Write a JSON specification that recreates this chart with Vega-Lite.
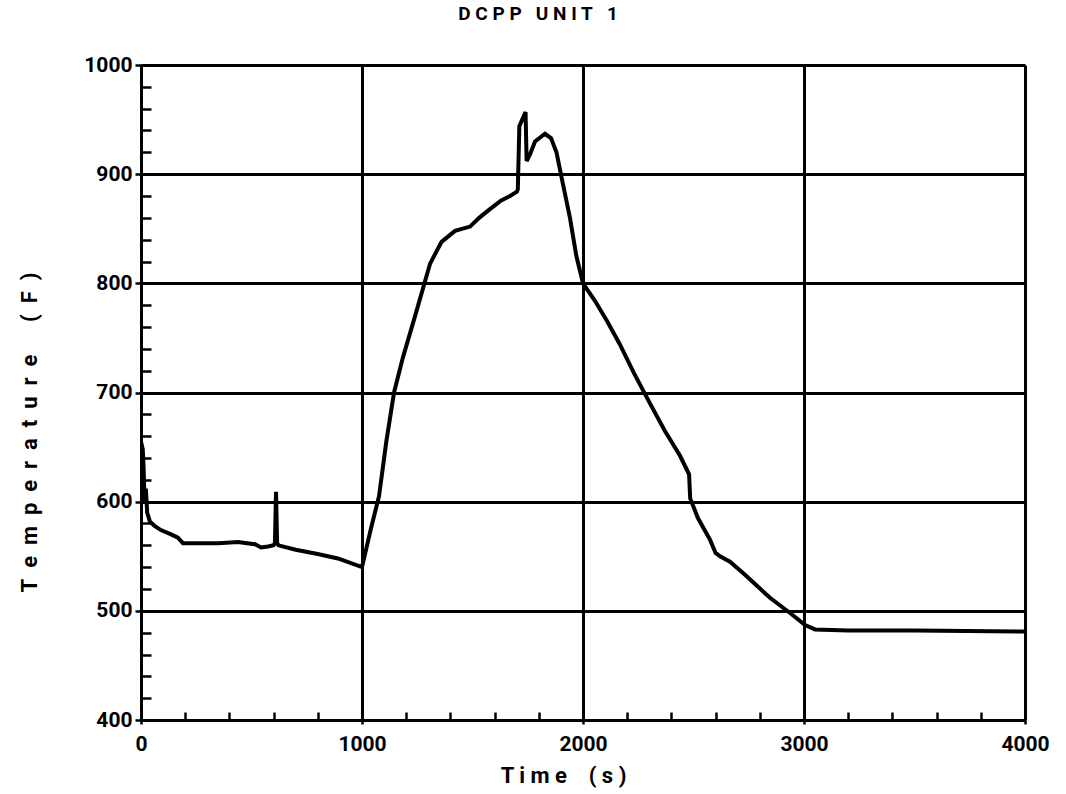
{
  "$schema": "https://vega.github.io/schema/vega-lite/v6.json",
  "autosize": {"type": "none"},
  "padding": {"left": 141, "top": 65, "right": 41, "bottom": 74},
  "width": 884,
  "height": 655,
  "background": "white",
  "title": {
    "text": "D C P P\u00a0\u00a0\u00a0U N I T\u00a0\u00a0\u00a01",
    "fontSize": 19,
    "font": "Roboto",
    "fontWeight": "bold",
    "color": "black",
    "anchor": "middle",
    "dx": -45,
    "offset": 30
  },
  "config": {
    "view": {"stroke": null},
    "axis": {
      "labelFont": "Roboto",
      "labelFontWeight": "bold",
      "labelFontSize": 21,
      "labelColor": "black",
      "titleFont": "Roboto",
      "titleFontWeight": "bold",
      "titleFontSize": 22,
      "titleColor": "black"
    }
  },
  "data": {
    "values": [
      {"t": 0, "T": 655}, {"t": 8, "T": 648}, {"t": 12, "T": 630}, {"t": 16, "T": 600},
      {"t": 22, "T": 612}, {"t": 28, "T": 590}, {"t": 40, "T": 582}, {"t": 60, "T": 578},
      {"t": 90, "T": 574}, {"t": 136, "T": 570}, {"t": 167, "T": 567}, {"t": 190, "T": 562},
      {"t": 250, "T": 562}, {"t": 350, "T": 562}, {"t": 439, "T": 563}, {"t": 480, "T": 562},
      {"t": 516, "T": 561}, {"t": 543, "T": 558}, {"t": 575, "T": 559}, {"t": 600, "T": 560},
      {"t": 606, "T": 562}, {"t": 611, "T": 609}, {"t": 616, "T": 562}, {"t": 622, "T": 560},
      {"t": 700, "T": 556}, {"t": 800, "T": 552}, {"t": 891, "T": 548}, {"t": 1000, "T": 540},
      {"t": 1040, "T": 575}, {"t": 1077, "T": 605}, {"t": 1110, "T": 655}, {"t": 1145, "T": 700},
      {"t": 1185, "T": 732}, {"t": 1240, "T": 770}, {"t": 1308, "T": 818}, {"t": 1360, "T": 838},
      {"t": 1421, "T": 848}, {"t": 1489, "T": 852}, {"t": 1530, "T": 860}, {"t": 1579, "T": 868},
      {"t": 1630, "T": 876}, {"t": 1670, "T": 880}, {"t": 1701, "T": 884}, {"t": 1705, "T": 886},
      {"t": 1712, "T": 944}, {"t": 1740, "T": 957}, {"t": 1745, "T": 912}, {"t": 1760, "T": 918},
      {"t": 1783, "T": 930}, {"t": 1828, "T": 937}, {"t": 1855, "T": 933}, {"t": 1880, "T": 920},
      {"t": 1900, "T": 900}, {"t": 1941, "T": 860}, {"t": 1970, "T": 825}, {"t": 2000, "T": 800},
      {"t": 2054, "T": 784}, {"t": 2110, "T": 765}, {"t": 2167, "T": 744}, {"t": 2230, "T": 718},
      {"t": 2303, "T": 690}, {"t": 2370, "T": 665}, {"t": 2439, "T": 642}, {"t": 2480, "T": 625},
      {"t": 2485, "T": 603}, {"t": 2520, "T": 585}, {"t": 2575, "T": 565}, {"t": 2600, "T": 553},
      {"t": 2620, "T": 550}, {"t": 2665, "T": 545}, {"t": 2733, "T": 533}, {"t": 2846, "T": 512},
      {"t": 2937, "T": 498}, {"t": 3005, "T": 487}, {"t": 3050, "T": 483}, {"t": 3200, "T": 482},
      {"t": 3500, "T": 482}, {"t": 4000, "T": 481}
    ]
  },
  "layer": [
    {
      "mark": {"type": "line", "color": "black", "strokeWidth": 4, "strokeOpacity": 0, "clip": true},
      "encoding": {
        "x": {
          "field": "t", "type": "quantitative",
          "scale": {"domain": [0, 4000], "nice": false, "zero": false},
          "axis": {
            "orient": "bottom",
            "values": [0, 200, 400, 600, 800, 1000, 1200, 1400, 1600, 1800, 2000, 2200, 2400, 2600, 2800, 3000, 3200, 3400, 3600, 3800, 4000],
            "labels": false, "title": null, "grid": false, "domain": false,
            "ticks": true, "tickSize": -8, "tickWidth": 2.5, "tickColor": "black"
          }
        },
        "y": {
          "field": "T", "type": "quantitative",
          "scale": {"domain": [400, 1000], "nice": false, "zero": false},
          "axis": {
            "orient": "left",
            "values": [400, 420, 440, 460, 480, 500, 520, 540, 560, 580, 600, 620, 640, 660, 680, 700, 720, 740, 760, 780, 800, 820, 840, 860, 880, 900, 920, 940, 960, 980, 1000],
            "labels": false, "title": null, "grid": false, "domain": false,
            "ticks": true, "tickSize": -10, "tickWidth": 2.5, "tickColor": "black"
          }
        }
      }
    },
    {
      "mark": {"type": "line", "color": "black", "strokeWidth": 4, "clip": true},
      "encoding": {
        "x": {
          "field": "t", "type": "quantitative",
          "scale": {"domain": [0, 4000], "nice": false, "zero": false},
          "axis": {
            "orient": "bottom",
            "values": [0, 1000, 2000, 3000, 4000],
            "format": "d",
            "grid": true, "gridColor": "black", "gridWidth": 3, "gridOpacity": 1,
            "domain": true, "domainColor": "black", "domainWidth": 3,
            "ticks": true, "tickSize": 4, "tickWidth": 2.5, "tickColor": "black",
            "labelPadding": 9, "labelFlush": false,
            "title": "T i m e\u00a0\u00a0\u00a0\u00a0( s )", "titleX": 422, "titleY": 62, "titleAlign": "center", "titleBaseline": "alphabetic"
          }
        },
        "y": {
          "field": "T", "type": "quantitative",
          "scale": {"domain": [400, 1000], "nice": false, "zero": false},
          "axis": {
            "orient": "left",
            "values": [400, 500, 600, 700, 800, 900, 1000],
            "format": "d",
            "grid": true, "gridColor": "black", "gridWidth": 3, "gridOpacity": 1,
            "domain": true, "domainColor": "black", "domainWidth": 3,
            "ticks": true, "tickSize": 6, "tickWidth": 2.5, "tickColor": "black",
            "labelPadding": 3, "labelFlush": false, "labelBaseline": "middle",
            "title": "T\u00a0\u00a0e\u00a0\u00a0m\u00a0\u00a0p\u00a0\u00a0e\u00a0\u00a0r\u00a0\u00a0a\u00a0\u00a0t\u00a0\u00a0u\u00a0\u00a0r\u00a0\u00a0e\u00a0\u00a0\u00a0\u00a0\u00a0\u00a0(\u00a0\u00a0F\u00a0\u00a0)",
            "titleX": -112, "titleY": 367, "titleAlign": "center", "titleAngle": -90, "titleBaseline": "middle"
          }
        }
      }
    }
  ],
  "resolve": {"axis": {"x": "independent", "y": "independent"}}
}
